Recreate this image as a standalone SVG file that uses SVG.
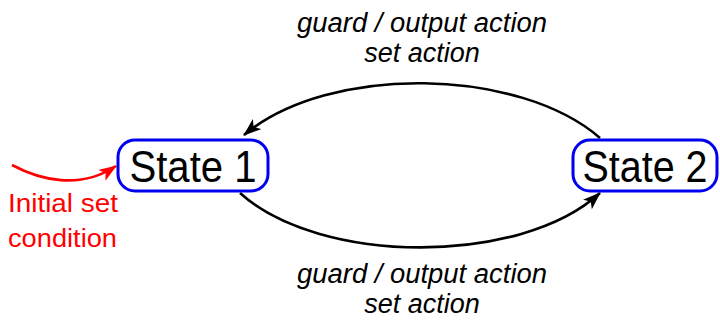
<svg xmlns="http://www.w3.org/2000/svg" width="720" height="322" viewBox="0 0 720 322">
  <style>
    .state rect { fill: #ffffff; stroke: #0000ee; stroke-width: 3; }
    .state text { font-family: "Liberation Sans", Arial, sans-serif; font-size: 44px; fill: #000000; text-anchor: middle; }
    .edge { fill: none; stroke: #000000; stroke-width: 2.6; }
    .label { font-family: "Liberation Sans", Arial, sans-serif; font-style: italic; font-size: 27px; fill: #000000; text-anchor: middle; }
    .init { fill: none; stroke: #ff0000; stroke-width: 2.6; }
    .init-label { font-family: "Liberation Sans", Arial, sans-serif; font-size: 25px; fill: #ff0000; }
  </style>
  <defs>
    <!-- arrowheads drawn in user units: 18 long, 13 wide -->
    <marker id="arrow-black" viewBox="0 0 18 13" refX="17" refY="6.5" markerWidth="18" markerHeight="13" markerUnits="userSpaceOnUse" orient="auto">
      <path d="M0,0 L18,6.5 L0,13 L4.5,6.5 Z" fill="#000000"/>
    </marker>
    <marker id="arrow-red" viewBox="0 0 18 13" refX="17" refY="6.5" markerWidth="18" markerHeight="13" markerUnits="userSpaceOnUse" orient="auto">
      <path d="M0,0 L18,6.5 L0,13 L4.5,6.5 Z" fill="#ff0000"/>
    </marker>
  </defs>

  <g id="connectors">
    <!-- State 2 -> State 1 (upper arc) -->
    <path class="edge" d="M600,138 C520,68 330,63 244,135" marker-end="url(#arrow-black)"/>
    <!-- State 1 -> State 2 (lower arc) -->
    <path class="edge" d="M240,193 C320,265 520,266 600,193" marker-end="url(#arrow-black)"/>
    <!-- initial condition arrow -->
    <path class="init" d="M12,165 C40,180 80,190 116,166" marker-end="url(#arrow-red)"/>
  </g>

  <g id="state1" class="state">
    <rect x="118" y="140" width="150" height="51" rx="17" ry="17"/>
    <text x="193" y="182" textLength="127" lengthAdjust="spacingAndGlyphs">State 1</text>
  </g>

  <g id="state2" class="state">
    <rect x="573" y="140" width="144" height="51" rx="17" ry="17"/>
    <text x="645" y="182" textLength="125" lengthAdjust="spacingAndGlyphs">State 2</text>
  </g>

  <g id="label-top">
    <text class="label" x="422" y="32" textLength="250" lengthAdjust="spacingAndGlyphs">guard / output action</text>
    <text class="label" x="422" y="62">set action</text>
  </g>

  <g id="label-bottom">
    <text class="label" x="422" y="283" textLength="250" lengthAdjust="spacingAndGlyphs">guard / output action</text>
    <text class="label" x="422" y="313">set action</text>
  </g>

  <g id="initial-label">
    <text class="init-label" x="8" y="212" textLength="110" lengthAdjust="spacingAndGlyphs">Initial set</text>
    <text class="init-label" x="8" y="247" textLength="109" lengthAdjust="spacingAndGlyphs">condition</text>
  </g>
</svg>
